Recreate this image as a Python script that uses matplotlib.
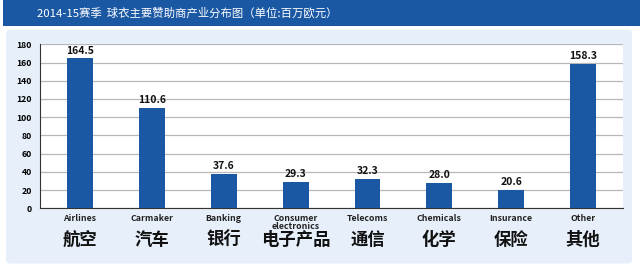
import matplotlib.pyplot as plt
from matplotlib.patches import Rectangle, FancyBboxPatch
from matplotlib.transforms import blended_transform_factory

plt.rcParams['font.family'] = ['Noto Sans CJK SC', 'DejaVu Sans']

categories_en = ["Airlines", "Carmaker", "Banking", "Consumer\nelectronics",
                 "Telecoms", "Chemicals", "Insurance", "Other"]
categories_cn = ["航空", "汽车", "银行", "电子产品", "通信", "化学", "保险", "其他"]
values = [164.5, 110.6, 37.6, 29.3, 32.3, 28.0, 20.6, 158.3]
yticks = list(range(0, 181, 20))
title = "2014-15赛季  球衣主要赞助商产业分布图（单位:百万欧元）"

BLUE = "#1b58a4"


def main():
    fig = plt.figure(figsize=(6.4, 2.69), dpi=100)
    fig.patch.set_facecolor("white")

    # title bar and light panel
    fig.patches.append(Rectangle((3 / 640, 0.903), 1, 0.097, transform=fig.transFigure,
                                 facecolor=BLUE, edgecolor="none", zorder=-10))
    fig.patches.append(FancyBboxPatch((6 / 640, 0.02), 626 / 640, 0.87,
                                      boxstyle="round,pad=0,rounding_size=0.01",
                                      transform=fig.transFigure,
                                      facecolor="#e7f0fa", edgecolor="none", zorder=-10))
    fig.text(37 / 640, 0.952, title, color="white", fontsize=8.2, va="center", ha="left")

    ax = fig.add_axes([40 / 640, 0.2257, 583 / 640, 0.6096])
    ax.set_facecolor("white")
    x = range(len(values))
    ax.bar(x, values, width=0.36, color=BLUE, zorder=3)
    for i, v in zip(x, values):
        ax.text(i, v + 3, f"{v:.1f}", ha="center", va="bottom", fontsize=7.5,
                fontweight="bold", color="#111111")

    ax.set_xlim(-0.557, 7.556)
    ax.set_ylim(0, 180)
    ax.set_yticks(yticks)
    ax.set_yticklabels([str(t) for t in yticks], fontsize=6.3, fontweight="bold")
    ax.yaxis.grid(True, color="#b8b8b8", linewidth=0.9, zorder=0)
    ax.tick_params(axis="y", length=0, pad=6)
    ax.tick_params(axis="x", length=0)
    ax.set_xticks([])
    for s in ["top", "right"]:
        ax.spines[s].set_visible(False)
    ax.spines["left"].set_color("#333333")
    ax.spines["bottom"].set_color("#333333")

    tr = blended_transform_factory(ax.transData, ax.transAxes)
    for i, (en, cn) in enumerate(zip(categories_en, categories_cn)):
        ax.text(i, -0.035, en, transform=tr, ha="center", va="top", fontsize=6.3,
                fontweight="bold", color="#222222", linespacing=0.9)
        ax.text(i, -0.195, cn, transform=tr, ha="center", va="center", fontsize=12.5,
                fontweight="heavy", color="#111111")

    fig.savefig("out.png", dpi=100)


if __name__ == "__main__":
    main()
